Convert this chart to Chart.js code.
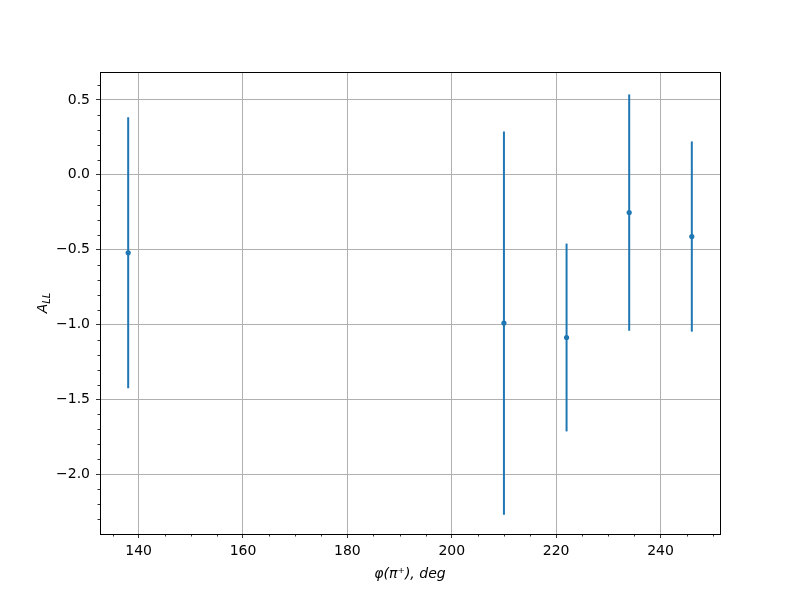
<!DOCTYPE html>
<html>
<head>
<meta charset="utf-8">
<script src="https://cdn.jsdelivr.net/npm/chart.js@4"></script>
<style>
  html, body { margin: 0; padding: 0; background: #fff; }
  #wrap { width: 800px; height: 600px; }
</style>
</head>
<body>
<div id="wrap"><canvas id="chart" width="800" height="600"></canvas></div>
<script>
/* data */
var phiValues = [138, 210, 222, 234, 246];
var allValues = [-0.52, -0.99, -1.086, -0.252, -0.412];
var allErrors = [0.905, 1.279, 0.627, 0.789, 0.635];

var xTicks = [140, 160, 180, 200, 220, 240];
var yTicks = [-2.0, -1.5, -1.0, -0.5, 0.0, 0.5];
var xMinorStep = 5;
var yMinorStep = 0.1;

var BLUE = '#1f77b4';
var FONT = '"DejaVu Sans", sans-serif';

function fmtNum(v, dec) {
    var s = v.toFixed(dec);
    if (v < 0 && parseFloat(s) !== 0) s = '\u2212' + s.substring(1);
    if (parseFloat(s) === 0) s = (0).toFixed(dec);
    return s;
}

/* error bars, minor ticks, frame and axis titles */
var extras = {
    id: 'extras',
    beforeDatasetsDraw(chart) {
        var ctx = chart.ctx, xs = chart.scales.x, ys = chart.scales.y, a = chart.chartArea;
        ctx.save();
        ctx.beginPath();
        ctx.rect(a.left, a.top, a.right - a.left, a.bottom - a.top);
        ctx.clip();
        ctx.strokeStyle = BLUE;
        ctx.lineWidth = 2;
        phiValues.forEach((x, i) => {
            var px = xs.getPixelForValue(x);
            ctx.beginPath();
            ctx.moveTo(px, ys.getPixelForValue(allValues[i] + allErrors[i]));
            ctx.lineTo(px, ys.getPixelForValue(allValues[i] - allErrors[i]));
            ctx.stroke();
        });
        ctx.restore();
    },
    afterDraw(chart) {
        var ctx = chart.ctx, xs = chart.scales.x, ys = chart.scales.y, a = chart.chartArea;
        ctx.save();
        // minor ticks
        ctx.strokeStyle = '#000';
        ctx.lineWidth = 0.8;
        ctx.beginPath();
        for (var v = Math.ceil(xs.min / xMinorStep) * xMinorStep; v <= xs.max; v += xMinorStep) {
            if (v % 20 === 0) continue;
            var px = Math.round(xs.getPixelForValue(v)) + 0.5;
            ctx.moveTo(px, a.bottom);
            ctx.lineTo(px, a.bottom + 2.5);
        }
        for (var k = Math.ceil(ys.min / yMinorStep); k * yMinorStep <= ys.max; k++) {
            if (k % 5 === 0) continue;
            var py = Math.round(ys.getPixelForValue(k * yMinorStep)) + 0.5;
            ctx.moveTo(a.left, py);
            ctx.lineTo(a.left - 2.5, py);
        }
        ctx.stroke();

        // frame
        ctx.lineWidth = 1;
        ctx.strokeRect(Math.round(a.left) + 0.5, Math.round(a.top) + 0.5,
            Math.round(a.right - a.left), Math.round(a.bottom - a.top));

        // x title: φ(π⁺), deg
        ctx.fillStyle = '#000';
        ctx.textBaseline = 'alphabetic';
        ctx.textAlign = 'center';
        ctx.font = 'italic 14px ' + FONT;
        ctx.fillText('\u03c6(\u03c0\u207a), deg', (a.left + a.right) / 2, 578);

        // y title: A with subscript LL
        ctx.translate(47, (a.top + a.bottom) / 2);
        ctx.rotate(-Math.PI / 2);
        ctx.font = 'italic 14px ' + FONT;
        var wA = ctx.measureText('A').width;
        ctx.font = 'italic 10px ' + FONT;
        var wS = ctx.measureText('LL').width;
        var x0 = -(wA + wS) / 2;
        ctx.textAlign = 'left';
        ctx.font = 'italic 14px ' + FONT;
        ctx.fillText('A', x0, 0);
        ctx.font = 'italic 10px ' + FONT;
        ctx.fillText('LL', x0 + wA, 3);
        ctx.restore();
    }
};

new Chart(document.getElementById('chart'), {
    type: 'scatter',
    data: {
        datasets: [{
            data: phiValues.map((x, i) => ({ x: x, y: allValues[i] })),
            backgroundColor: BLUE,
            borderColor: BLUE,
            pointRadius: 2.6,
            pointBorderWidth: 0,
            pointHoverRadius: 2.6
        }]
    },
    options: {
        responsive: false,
        animation: false,
        events: [],
        layout: { padding: { top: 72, right: 80, left: 0, bottom: 0 } },
        plugins: { legend: { display: false }, tooltip: { enabled: false } },
        scales: {
            x: {
                type: 'linear',
                min: 132.6,
                max: 251.4,
                afterBuildTicks: (s) => { s.ticks = xTicks.map(v => ({ value: v })); },
                afterFit: (s) => { s.height = 66; },
                border: { display: false },
                grid: { color: '#b0b0b0', lineWidth: 1, tickColor: '#000', tickLength: 4, tickWidth: 0.8 },
                ticks: {
                    color: '#000',
                    padding: 5,
                    maxRotation: 0,
                    font: { family: FONT, size: 14 },
                    callback: (v) => String(v)
                }
            },
            y: {
                type: 'linear',
                min: -2.398,
                max: 0.6867,
                afterBuildTicks: (s) => { s.ticks = yTicks.map(v => ({ value: v })); },
                afterFit: (s) => { s.width = 100; },
                border: { display: false },
                grid: { color: '#b0b0b0', lineWidth: 1, tickColor: '#000', tickLength: 4, tickWidth: 0.8 },
                ticks: {
                    color: '#000',
                    padding: 6,
                    font: { family: FONT, size: 14 },
                    callback: (v) => fmtNum(v, 1)
                }
            }
        }
    },
    plugins: [extras]
});
</script>
</body>
</html>
